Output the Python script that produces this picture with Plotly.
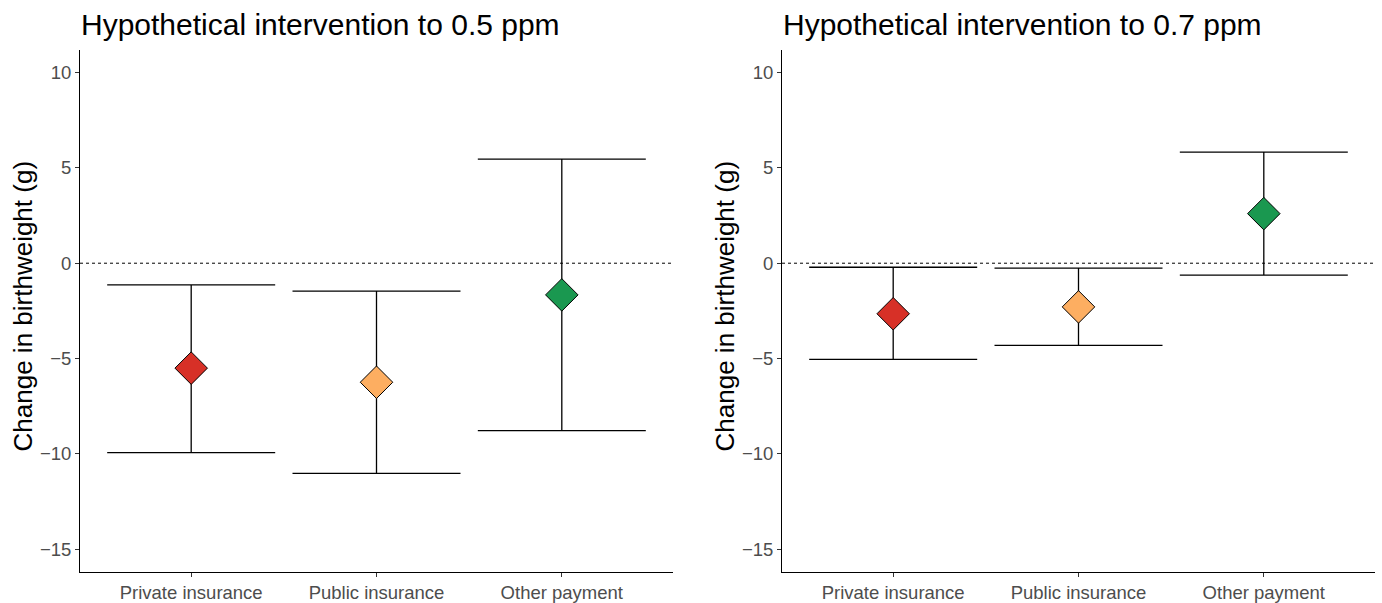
import plotly.graph_objects as go

categories = ["Private insurance", "Public insurance", "Other payment"]
colors = ["#d73027", "#fdae61", "#1a9850"]

est_05 = [-5.5, -6.24, -1.66]
upper_05 = [-1.14, -1.46, 5.46]
lower_05 = [-9.93, -11.02, -8.78]

est_07 = [-2.65, -2.29, 2.6]
upper_07 = [-0.21, -0.26, 5.82]
lower_07 = [-5.04, -4.31, -0.62]

titles = ["Hypothetical intervention to 0.5 ppm", "Hypothetical intervention to 0.7 ppm"]
ytick_vals = [-15, -10, -5, 0, 5, 10]
ytick_text = ["\u221215", "\u221210", "\u22125", "0", "5", "10"]

FW, FH = 1382, 603


def px(x):
    return x / FW


def py(y):
    return 1 - y / FH


fig = go.Figure()

panels = [(est_05, upper_05, lower_05), (est_07, upper_07, lower_07)]
xdomains = [[px(80), px(673)], [px(782), px(1375)]]
ydomain = [py(577), py(50)]
ytitle_x = [23, 725]

for i, (est, up, lo) in enumerate(panels):
    xa = "x" if i == 0 else "x2"
    ya = "y" if i == 0 else "y2"
    xpos = [1, 2, 3]
    fig.add_trace(go.Scatter(
        x=xpos, y=est, mode="markers", xaxis=xa, yaxis=ya,
        marker=dict(symbol="diamond", size=25, color=colors,
                    line=dict(color="black", width=1)),
        error_y=dict(type="data", symmetric=False,
                     array=[u - e for u, e in zip(up, est)],
                     arrayminus=[e - l for e, l in zip(est, lo)],
                     color="black", thickness=1.3, width=84),
        showlegend=False, hoverinfo="skip",
    ))
    fig.add_shape(type="line", xref=f"{xa} domain", yref=ya, x0=0, x1=1, y0=0, y1=0,
                  line=dict(color="black", width=1, dash="dot"), layer="below")
    fig.add_annotation(text=titles[i], xref="paper", yref="paper",
                       x=px(79 if i == 0 else 781), y=py(25), xanchor="left", yanchor="middle",
                       showarrow=False, font=dict(size=30, color="black"))
    fig.add_annotation(text="Change in birthweight (g)", xref="paper", yref="paper",
                       x=px(ytitle_x[i]), y=py(309),
                       xanchor="center", yanchor="middle", textangle=-90,
                       showarrow=False, font=dict(size=26, color="black"))

axis_common = dict(showline=True, linecolor="black", linewidth=1, ticks="outside",
                   ticklen=4, tickcolor="#333333", showgrid=False, zeroline=False,
                   tickfont=dict(size=18.5, color="#4d4d4d"))

fig.update_layout(
    width=FW, height=FH, margin=dict(l=0, r=0, t=0, b=0),
    paper_bgcolor="white", plot_bgcolor="white",
    font=dict(family="Liberation Sans, Arial, sans-serif"),
    xaxis=dict(domain=xdomains[0], range=[0.4, 3.6], tickvals=[1, 2, 3],
               ticktext=categories, anchor="y", ticklabelstandoff=0, **axis_common),
    yaxis=dict(domain=ydomain, range=[-16.2, 11.2], tickvals=ytick_vals,
               ticktext=ytick_text, anchor="x", **axis_common),
    xaxis2=dict(domain=xdomains[1], range=[0.4, 3.6], tickvals=[1, 2, 3],
                ticktext=categories, anchor="y2", ticklabelstandoff=0, **axis_common),
    yaxis2=dict(domain=ydomain, range=[-16.2, 11.2], tickvals=ytick_vals,
                ticktext=ytick_text, anchor="x2", **axis_common),
)

fig.write_html(
    "out.html",
    config={"displayModeBar": False},
    post_script="document.body.style.margin='0';document.body.style.overflow='hidden';",
)
